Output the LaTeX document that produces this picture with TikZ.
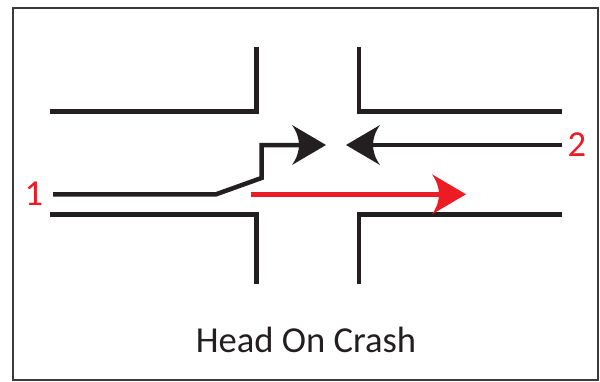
\documentclass[tikz,border=0pt]{standalone}
\usepackage{fontspec}
\setmainfont{Carlito}
\definecolor{ink}{HTML}{231F20}
\definecolor{crashred}{HTML}{ED1C24}
\definecolor{framegray}{HTML}{3A3A3A}
\tikzset{
  road/.style={draw=ink, line width=4.5pt, line cap=butt, line join=miter},
  path1/.style={draw=ink, line width=4.5pt, line cap=butt, line join=miter},
  redpath/.style={draw=crashred, line width=4.5pt, line cap=butt},
  lbl/.style={inner sep=0pt, font=\fontsize{36.6}{40}\selectfont},
  pics/ahead/.style={code={
    \fill[#1] (0,0) -- (-34,-20) .. controls (-29,-13) and (-27,-6) .. (-27,0)
      .. controls (-27,6) and (-29,13) .. (-34,20) -- cycle;
  }}
}
\begin{document}
\begin{tikzpicture}[x=1pt,y=-1pt]
\useasboundingbox (0,0) rectangle (600,381);
\draw[framegray, line width=1.3pt] (13,8) rectangle (598,380);
% road edges
\draw[road] (50,111.7) -- (256.5,111.7) -- (256.5,47);
\draw[road] (359,47) -- (359,111.7) -- (562,111.7);
\draw[road] (50,214.3) -- (256.5,214.3) -- (256.5,284);
\draw[road] (359,284) -- (359,214.3) -- (562,214.3);
% vehicle 1 path
\coordinate (s1) at (53,194.3);
\coordinate (b1) at (216,194.3);
\coordinate (c1) at (261.5,178);
\coordinate (d1) at (261.5,145);
\coordinate (n1) at (299,145);
\coordinate (t1) at (326,145);
\draw[path1] (s1) -- (b1) -- (c1) -- (d1) -- (n1);
\pic at (t1) {ahead=ink};
% vehicle 2 path
\coordinate (s2) at (562,145);
\coordinate (n2) at (373,145);
\coordinate (t2) at (346,145);
\draw[path1] (s2) -- (n2);
\pic[rotate=180] at (t2) {ahead=ink};
% red path
\coordinate (s3) at (251,194.3);
\coordinate (n3) at (439,194.3);
\coordinate (t3) at (466,194.3);
\draw[redpath] (s3) -- (n3);
\pic at (t3) {ahead=crashred};
% labels
\node[lbl, text=crashred] (l1) at (34,193.5) {1};
\node[lbl, text=crashred] (l2) at (577,145) {2};
\node[lbl, text=ink] (title) at (306,340) {Head On Crash};
\end{tikzpicture}
\end{document}
